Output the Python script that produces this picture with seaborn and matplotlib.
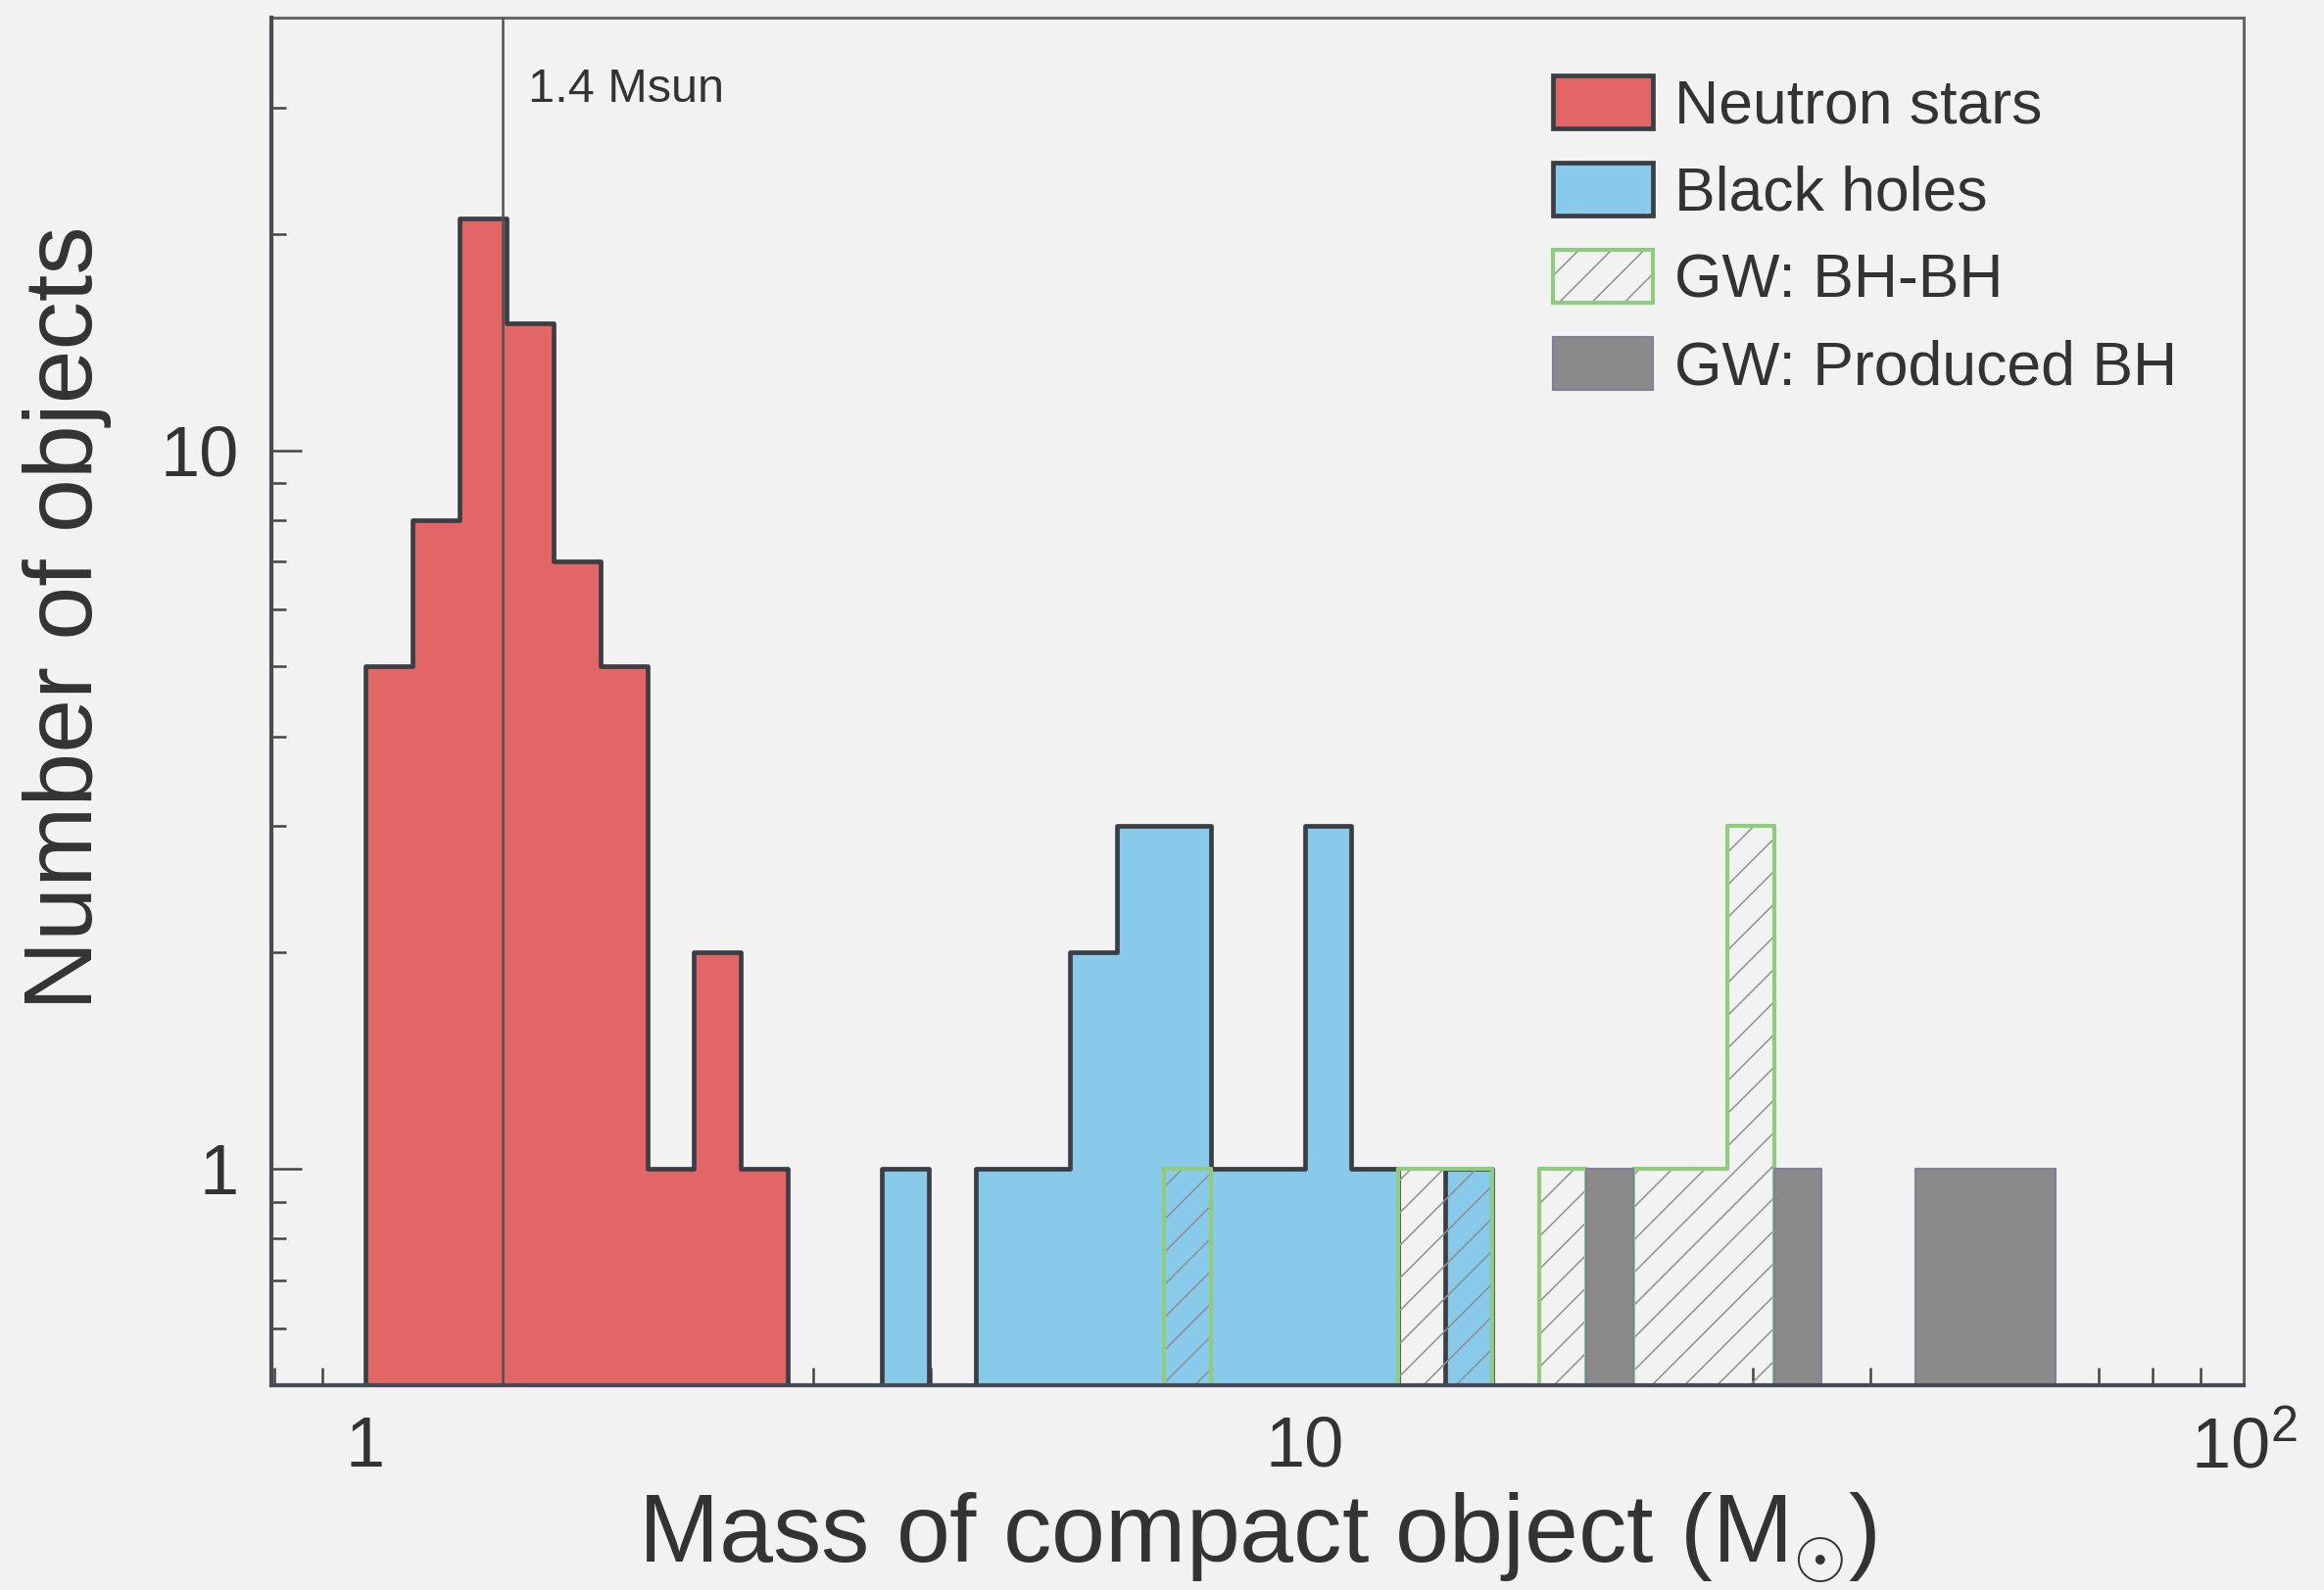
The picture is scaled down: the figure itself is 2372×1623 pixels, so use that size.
import numpy as np
import pandas as pd
import matplotlib
matplotlib.use("Agg")
import matplotlib.pyplot as plt
import seaborn as sns
from matplotlib.patches import Patch
from matplotlib.ticker import FixedLocator, LogLocator, NullFormatter, FixedFormatter

# ---------------- data ----------------
# representative mass (Msun) of each occupied log-bin and its count
ns_mass = [1.06, 1.19, 1.33, 1.50, 1.68, 1.88, 2.11, 2.37, 2.66]
ns_count = [5, 8, 21, 15, 7, 5, 1, 2, 1]

bh_mass = [3.76, 4.73, 5.31, 5.96, 6.68, 7.50, 8.41, 9.44, 10.6, 11.9, 15.0]
bh_count = [1, 1, 1, 2, 3, 3, 1, 1, 3, 1, 1]

gw_bbh_mass = [7.50, 13.3, 15.0, 18.8, 23.7, 26.6, 29.9]
gw_bbh_count = [1, 1, 1, 1, 1, 1, 3]

gw_prod_mass = [21.1, 33.5, 47.3, 53.1, 59.6]
gw_prod_count = [1, 1, 1, 1, 1]

ref_mass = 1.4
ref_label = "1.4 Msun"
legend_labels = ["Neutron stars", "Black holes", "GW: BH-BH", "GW: Produced BH"]
x_ticks = [1, 10, 100]
x_ticklabels = ["1", "10", r"$\mathregular{10^{2}}$"]
y_ticks = [1, 10]
y_ticklabels = ["1", "10"]
x_label = r"Mass of compact object (M$_{\odot}$)"
y_label = "Number of objects"

# ---------------- style ----------------
BG = "#f2f2f2"
RED = "#e36667"
BLUE = "#89caea"
GRAY = "#8a8a8a"
GRAY_EDGE = "#80809a"
GREEN = "#90cc80"
HATCH = "#909090"
DARK = "#3b3e44"
TXT = "#333333"
NOFILL = (0, 0, 0, 0)

sns.set_theme(style="ticks")
plt.rcParams["font.family"] = ["Liberation Sans", "DejaVu Sans"]
plt.rcParams["mathtext.fontset"] = "custom"
plt.rcParams["mathtext.rm"] = "Liberation Sans"
plt.rcParams["mathtext.it"] = "Liberation Sans:italic"
plt.rcParams["mathtext.bf"] = "Liberation Sans:bold"
plt.rcParams["hatch.linewidth"] = 1.1

W, H = 2372, 1623
fig = plt.figure(figsize=(W / 100, H / 100), dpi=100, facecolor=BG)
ax_l, ax_r, ax_t, ax_b = 277, 2290, 18, 1414
ax = fig.add_axes([ax_l / W, 1 - ax_b / H, (ax_r - ax_l) / W, (ax_b - ax_t) / H])
ax.set_facecolor(BG)

hist_kw = dict(binwidth=0.05, binrange=(0, 2), log_scale=True, element="step",
               ax=ax, legend=False)

df_ns = pd.DataFrame({"mass": ns_mass, "n": ns_count})
df_bh = pd.DataFrame({"mass": bh_mass, "n": bh_count})
df_bbh = pd.DataFrame({"mass": gw_bbh_mass, "n": gw_bbh_count})
df_prod = pd.DataFrame({"mass": gw_prod_mass, "n": gw_prod_count})

sns.histplot(data=df_ns, x="mass", weights="n", fill=True, color=RED, facecolor=RED,
             edgecolor=DARK, linewidth=3.4, alpha=1, **hist_kw)
sns.histplot(data=df_bh, x="mass", weights="n", fill=True, color=BLUE, facecolor=BLUE,
             edgecolor=DARK, linewidth=3.4, alpha=1, **hist_kw)
# hatched BH-BH: hatch layer then green outline
sns.histplot(data=df_bbh, x="mass", weights="n", fill=True, color=HATCH,
             facecolor=NOFILL, edgecolor=HATCH, hatch="/", linewidth=0,
             alpha=1, **hist_kw)
sns.histplot(data=df_bbh, x="mass", weights="n", fill=True, color=GREEN,
             facecolor=NOFILL, edgecolor=GREEN, linewidth=3.0, alpha=1, **hist_kw)
sns.histplot(data=df_prod, x="mass", weights="n", fill=True, color=GRAY, facecolor=GRAY,
             edgecolor=GRAY_EDGE, linewidth=1.5, alpha=1, **hist_kw)

ax.axvline(ref_mass, color="#505050", lw=1.8, zorder=5)
ax.annotate(ref_label, xy=(ref_mass, 1), xycoords=("data", "axes fraction"),
            xytext=(19, -53), textcoords="offset points", ha="left", va="center",
            fontsize=35, color=TXT)

ax.set_yscale("log")
ax.set_xlim(0.794, 100)
ax.set_ylim(0.5, 40)

# ticks
ax.xaxis.set_major_locator(FixedLocator(x_ticks))
ax.xaxis.set_major_formatter(FixedFormatter(x_ticklabels))
ax.xaxis.set_minor_locator(LogLocator(base=10, subs=np.arange(2, 10)))
ax.xaxis.set_minor_formatter(NullFormatter())
ax.yaxis.set_major_locator(FixedLocator(y_ticks))
ax.yaxis.set_major_formatter(FixedFormatter(y_ticklabels))
ax.yaxis.set_minor_locator(LogLocator(base=10, subs=np.arange(2, 10)))
ax.yaxis.set_minor_formatter(NullFormatter())

ax.tick_params(axis="x", which="major", direction="in", length=26, width=1.8,
               color="#444444", labelsize=52, labelcolor=TXT, pad=22)
ax.tick_params(axis="x", which="minor", direction="in", length=13, width=1.8,
               color="#444444")
ax.tick_params(axis="y", which="major", direction="in", length=22, width=1.8,
               color="#444444", labelsize=52, labelcolor=TXT, pad=24)
ax.tick_params(axis="y", which="minor", direction="in", length=11, width=1.8,
               color="#444444")
ax.tick_params(top=False, right=False)

for side in ("top", "right"):
    ax.spines[side].set_color("#666666")
    ax.spines[side].set_linewidth(2.2)
for side in ("left", "bottom"):
    ax.spines[side].set_color("#474b56")
    ax.spines[side].set_linewidth(3.0)
    ax.spines[side].set_zorder(6)

ax.set_xlabel(x_label, fontsize=71, color=TXT)
ax.set_ylabel(y_label, fontsize=71, color=TXT)
ax.xaxis.set_label_coords(0.5, -0.077)
ax.yaxis.set_label_coords(-0.081, 0.561)

handles = [
    Patch(facecolor=RED, edgecolor=DARK, linewidth=3.4),
    Patch(facecolor=BLUE, edgecolor=DARK, linewidth=3.4),
    (Patch(facecolor=BG, edgecolor=HATCH, hatch="/", linewidth=0),
     Patch(facecolor="none", edgecolor=GREEN, linewidth=3.0)),
    Patch(facecolor=GRAY, edgecolor=GRAY_EDGE, linewidth=1.5),
]
leg = ax.legend(handles, legend_labels, loc="upper left",
                bbox_to_anchor=(0.650, 0.958), frameon=False, fontsize=45,
                handlelength=1.62, handleheight=0.96, handletextpad=0.36,
                labelspacing=0.44, borderpad=0, borderaxespad=0)
for t in leg.get_texts():
    t.set_color(TXT)

fig.savefig("out.png", dpi=100, facecolor=BG)
